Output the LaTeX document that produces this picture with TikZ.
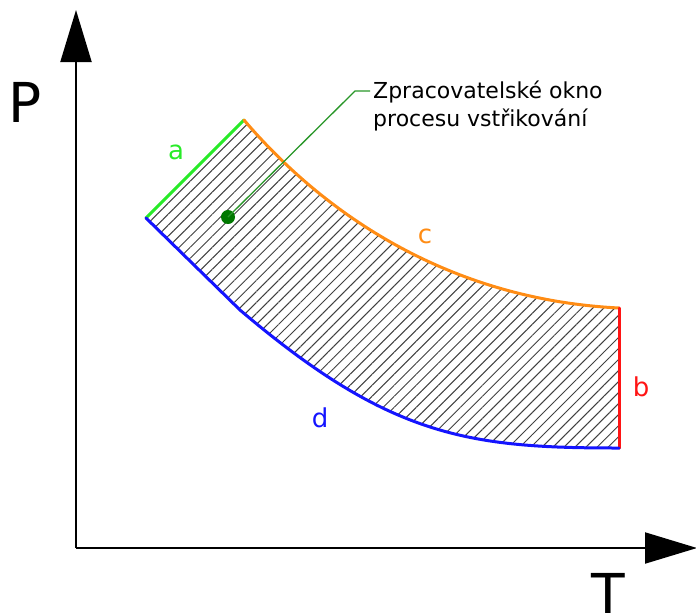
\documentclass[tikz,border=0pt]{standalone}
\usepackage{fontspec}
\setmainfont{DejaVu Sans}
\usetikzlibrary{arrows.meta,patterns.meta}
\definecolor{lineA}{RGB}{40,235,40}
\definecolor{lineB}{RGB}{255,20,20}
\definecolor{lineC}{RGB}{255,140,20}
\definecolor{lineD}{RGB}{20,20,255}
\definecolor{leader}{RGB}{40,150,40}
\definecolor{dotgreen}{RGB}{0,120,0}
\begin{document}
\begin{tikzpicture}[x=1pt,y=-1pt,
  axis/.style={line width=2pt,-{Triangle[length=52pt,width=31pt]}},
  edge/.style={line width=3pt,line cap=round},
  hatch/.style={pattern={Lines[angle=45,distance=7.8pt,line width=1pt]},pattern color=black!75},
  curvelabel/.style={font=\fontsize{26}{30}\selectfont,inner sep=0pt},
  axislabel/.style={font=\fontsize{55}{60}\selectfont,inner sep=0pt},
  note/.style={font=\fontsize{22}{28}\selectfont,inner sep=0pt,align=left}]
\useasboundingbox (0,0) rectangle (696,614);
% key points
\coordinate (O) at (76,548);
\coordinate (ytip) at (76,10);
\coordinate (xtip) at (697,548);
\coordinate (A1) at (146,218);
\coordinate (A2) at (244,120);
\coordinate (B1) at (619,308);
\coordinate (B2) at (619,448);
\coordinate (D1) at (240,310);
% hatched region
\path[hatch] (A1) -- (A2)
  .. controls (324,214) and (449,299.5) .. (B1)
  -- (B2)
  .. controls (469,448) and (390,437.5) .. (D1)
  -- cycle;
% edges
\draw[edge,lineA] (A1) -- (A2);
\draw[edge,lineC] (A2) .. controls (324,214) and (449,299.5) .. (B1);
\draw[edge,lineB] (B1) -- (B2);
\draw[edge,lineD] (A1) -- (D1) .. controls (390,437.5) and (469,448) .. (B2);
% axes
\draw[axis] (O) -- (ytip);
\draw[axis] (O) -- (xtip);
\node[axislabel] (P) at (25.5,102) {P};
\node[axislabel] (T) at (608,593) {T};
% curve labels
\node[curvelabel,text=lineA] (la) at (176,152) {a};
\node[curvelabel,text=lineB] (lb) at (641,387) {b};
\node[curvelabel,text=lineC] (lc) at (425,236) {c};
\node[curvelabel,text=lineD] (ld) at (320,418) {d};
% annotation
\node[circle,fill=dotgreen,inner sep=0pt,minimum size=14pt] (dot) at (228,217) {};
\coordinate (bend) at (355,91);
\coordinate (lend) at (370,91);
\draw[leader,line width=1.3pt] (dot.center) -- (bend) -- (lend);
\node[note,anchor=base west] (txt) at (373,126) {Zpracovatelské okno\\procesu vstřikování};
\end{tikzpicture}
\end{document}
